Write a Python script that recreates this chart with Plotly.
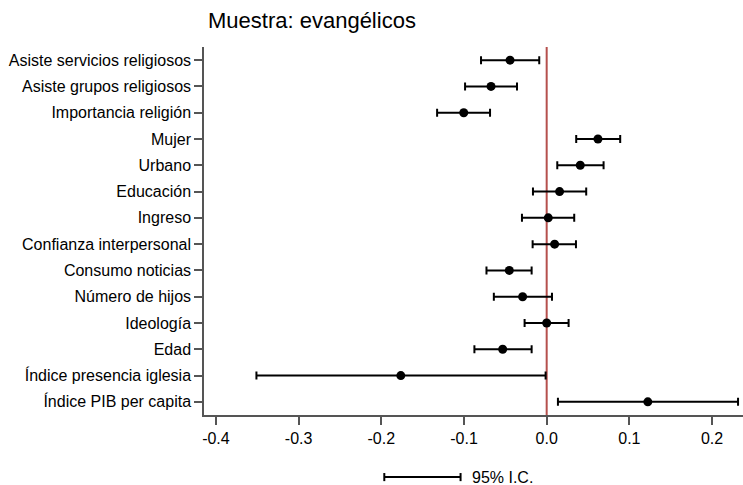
import plotly.graph_objects as go

categories = [
    "Asiste servicios religiosos",
    "Asiste grupos religiosos",
    "Importancia religión",
    "Mujer",
    "Urbano",
    "Educación",
    "Ingreso",
    "Confianza interpersonal",
    "Consumo noticias",
    "Número de hijos",
    "Ideología",
    "Edad",
    "Índice presencia iglesia",
    "Índice PIB per capita",
]
estimate = [-0.0443, -0.0673, -0.1003, 0.0620, 0.0406, 0.0156, 0.0019, 0.0096,
            -0.0452, -0.0291, 0.0000, -0.0532, -0.1764, 0.1223]
ci_low = [-0.0794, -0.0987, -0.1325, 0.0357, 0.0128, -0.0166, -0.0299, -0.0170,
          -0.0728, -0.0639, -0.0267, -0.0874, -0.3510, 0.0136]
ci_high = [-0.0090, -0.0359, -0.0685, 0.0889, 0.0688, 0.0478, 0.0333, 0.0354,
           -0.0182, 0.0064, 0.0265, -0.0182, -0.0013, 0.2314]
tick_vals = [-0.4, -0.3, -0.2, -0.1, 0.0, 0.1, 0.2]
tick_text = ["-0.4", "-0.3", "-0.2", "-0.1", "0.0", "0.1", "0.2"]
title_text = "Muestra: evangélicos"
legend_text = "95% I.C."

positions = list(range(1, len(categories) + 1))
err_plus = [h - e for h, e in zip(ci_high, estimate)]
err_minus = [e - l for e, l in zip(estimate, ci_low)]

FONT = "Liberation Sans, Arial, sans-serif"
AXC = "#555555"

fig = go.Figure()
fig.add_trace(go.Scatter(
    x=estimate, y=positions, mode="markers",
    marker=dict(color="black", size=9),
    error_x=dict(type="data", symmetric=False, array=err_plus, arrayminus=err_minus,
                 color="black", thickness=2, width=4),
    showlegend=False, hoverinfo="skip",
))

# zero reference line
fig.add_shape(type="line", xref="x", yref="paper", x0=0, x1=0, y0=0, y1=1,
              line=dict(color="#B5504D", width=2), layer="below")

# legend: CI bar sample
lx0, lx1, ly, cap = 0.3345, 0.476, -0.1687, 0.011
fig.add_shape(type="line", xref="paper", yref="paper", x0=lx0, x1=lx1, y0=ly, y1=ly,
              line=dict(color="black", width=2))
for lx in (lx0, lx1):
    fig.add_shape(type="line", xref="paper", yref="paper", x0=lx, x1=lx,
                  y0=ly - cap, y1=ly + cap, line=dict(color="black", width=2))
fig.add_annotation(xref="paper", yref="paper", x=0.4935, y=ly, text=legend_text,
                   showarrow=False, xanchor="left", yanchor="middle",
                   font=dict(family=FONT, size=16, color="black"))

fig.update_layout(
    width=743, height=485,
    margin=dict(l=204, r=0, t=47, b=70),
    paper_bgcolor="white", plot_bgcolor="white",
    font=dict(family=FONT, size=16, color="black"),
    title=dict(text=title_text, x=208 / 743, xanchor="left", y=1 - 20 / 485,
               yanchor="middle", font=dict(family=FONT, size=22, color="black")),
    xaxis=dict(range=[-0.4144, 0.2374], tickvals=tick_vals, ticktext=tick_text,
               showgrid=False, zeroline=False, showline=True, linecolor=AXC, linewidth=1.5,
               ticks="outside", ticklen=8, tickcolor=AXC, tickwidth=1.5,
               tickfont=dict(family=FONT, size=16, color="black")),
    yaxis=dict(range=[14.5, 0.5], tickvals=positions, ticktext=categories,
               showgrid=False, zeroline=False, showline=True, linecolor=AXC, linewidth=1.5,
               ticks="outside", ticklen=8, tickcolor=AXC, tickwidth=1.5,
               tickfont=dict(family=FONT, size=16, color="black")),
)

fig.write_html("out.html")
